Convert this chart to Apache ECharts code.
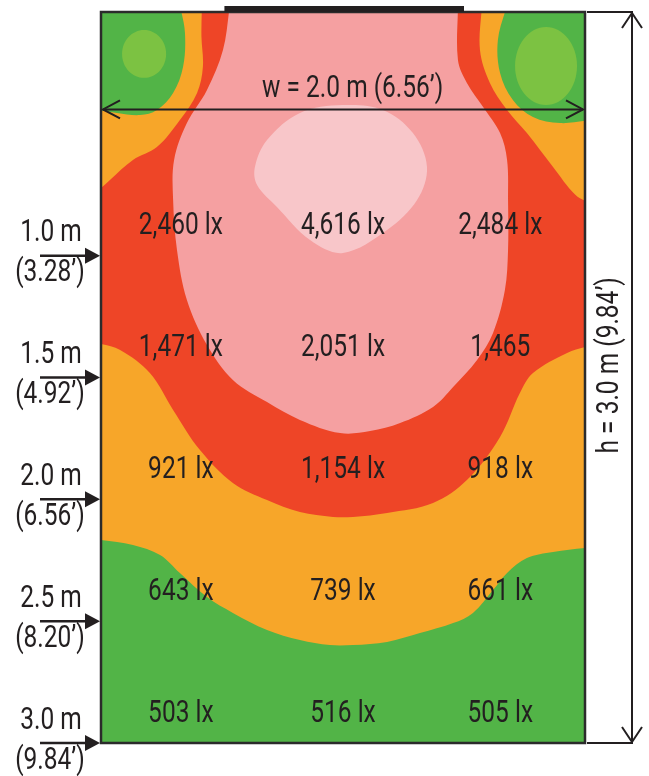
<!DOCTYPE html>
<html>
<head>
<meta charset="utf-8">
<script src="https://cdn.jsdelivr.net/npm/echarts@6/dist/echarts.min.js"></script>
<style>
  html, body { margin: 0; padding: 0; background: #fff; }
  #chart { width: 649px; height: 776px; }
</style>
</head>
<body>
<div id="chart"></div>
<script>
// measuring points: metres across the room / metres away from the source
var colX = [0.33, 1.0, 1.65];
var rowY = [1.0, 1.5, 2.0, 2.5, 3.0];
var lux10 = [2460, 4616, 2484];
var lux15 = [1471, 2051, 1465];
var lux20 = [921, 1154, 918];
var lux25 = [643, 739, 661];
var lux30 = [503, 516, 505];
var unit15 = [' lx', ' lx', ''];   // the "1,465" reading is printed without unit

var rowNames = ['1.0 m', '1.5 m', '2.0 m', '2.5 m', '3.0 m'];
var rowFeet = ['(3.28’)', '(4.92’)', '(6.56’)', '(8.20’)', '(9.84’)'];
var widthText = 'w = 2.0 m (6.56’)';
var heightText = 'h = 3.0 m (9.84’)';
var sourceSpan = [0.51, 1.5];

// isolux zone outlines [x m, y m]
var orangeZone = [[-0.03, -0.03], [2.03, -0.03], [2.03, 2.2], [2.0, 2.2], [1.868, 2.216], [1.76, 2.241], [1.678, 2.302],
  [1.62, 2.372], [1.537, 2.466], [1.455, 2.508], [1.318, 2.549], [1.182, 2.585], [1.041, 2.598], [0.946, 2.598],
  [0.822, 2.577], [0.686, 2.536], [0.545, 2.466], [0.438, 2.401], [0.326, 2.302], [0.244, 2.228], [0.132, 2.187],
  [0, 2.167], [-0.03, 2.165]];
var greenCornerL = [[-0.03, -0.03], [0.326, -0.03], [0.347, 0.086], [0.339, 0.226], [0.298, 0.332], [0.231, 0.402],
  [0.161, 0.423], [0.066, 0.414], [-0.03, 0.4]];
var greenCornerR = [[2.03, -0.03], [1.678, -0.03], [1.64, 0.115], [1.649, 0.25], [1.702, 0.361], [1.785, 0.431],
  [1.897, 0.456], [2.03, 0.443]];
var redZone = [[0.417, -0.03], [1.574, -0.03], [1.566, 0.156], [1.607, 0.291], [1.678, 0.402], [1.76, 0.497],
  [1.868, 0.636], [1.96, 0.75], [2.03, 0.79], [2.03, 1.367], [1.926, 1.399], [1.785, 1.482], [1.731, 1.564],
  [1.649, 1.744], [1.512, 1.921], [1.372, 2.015], [1.182, 2.056], [1.041, 2.072], [0.959, 2.072], [0.822, 2.052],
  [0.686, 2.003], [0.545, 1.933], [0.409, 1.798], [0.298, 1.633], [0.202, 1.482], [0.079, 1.387], [-0.03, 1.355],
  [-0.03, 0.75], [0.037, 0.689], [0.132, 0.607], [0.231, 0.554], [0.326, 0.443], [0.397, 0.332], [0.421, 0.226],
  [0.415, 0.1]];
var pinkZone = [[0.533, -0.03], [1.475, -0.03], [1.475, 0.197], [1.512, 0.291], [1.579, 0.39], [1.649, 0.497],
  [1.678, 0.607], [1.682, 0.772], [1.682, 0.977], [1.669, 1.141], [1.62, 1.317], [1.554, 1.428], [1.455, 1.539],
  [1.372, 1.621], [1.236, 1.687], [1.112, 1.72], [0.988, 1.728], [0.822, 1.674], [0.686, 1.601], [0.545, 1.51],
  [0.438, 1.367], [0.355, 1.182], [0.314, 0.977], [0.298, 0.772], [0.302, 0.607], [0.355, 0.456], [0.438, 0.32],
  [0.504, 0.156]];
var peakZone = [[0.822, 0.414], [0.686, 0.525], [0.636, 0.636], [0.645, 0.71], [0.727, 0.8], [0.864, 0.936],
  [1.0, 0.989], [1.182, 0.895], [1.306, 0.772], [1.347, 0.636], [1.289, 0.497], [1.165, 0.402], [1.0, 0.382]];
// light green spots: centre x, centre y, radius x, radius y (m)
var spotL = [0.178, 0.172, 0.091, 0.098];
var spotR = [1.839, 0.222, 0.128, 0.16];

var FONT = "Roboto, 'DejaVu Sans Condensed', sans-serif";
var INK = '#231f20';
var GREEN = '#52b447', LIGHT_GREEN = '#7cc242', ORANGE = '#f7a629', RED = '#ee4527', PINK = '#f5a0a1', LIGHT_PINK = '#f8c6c9';

// condensed lettering like the print
function txt(x, y, s, rot) {
  return {
    type: 'text', x: x, y: y, rotation: rot || 0, scaleX: 0.79,
    style: { text: s, fill: INK, fontSize: 31, fontWeight: 400, fontFamily: FONT, align: 'center', verticalAlign: 'middle' }
  };
}

function zone(name, pts, color) {
  return {
    type: 'custom', name: name, clip: true, silent: true,
    data: [[0, 0]],
    renderItem: function (params, api) {
      var out = [];
      pts.forEach(function (p) {
        var c = api.coord(p);
        out.push(c);
        // points outside the room are corners: doubled so they stay sharp
        if (p[0] < 0 || p[0] > 2 || p[1] < 0 || p[1] > 3) out.push(c.slice());
      });
      return { type: 'polygon', shape: { points: out, smooth: 0.35 }, style: { fill: color } };
    }
  };
}

function spot(vals) {
  return {
    type: 'custom', clip: true, silent: true,
    data: [vals],
    renderItem: function (params, api) {
      var c = api.coord([api.value(0), api.value(1)]);
      var s = api.size([api.value(2), api.value(3)]);
      return { type: 'ellipse', shape: { cx: c[0], cy: c[1], rx: s[0], ry: s[1] }, style: { fill: LIGHT_GREEN } };
    }
  };
}

var luxRows = [lux10, lux15, lux20, lux25, lux30];
var readings = [];
luxRows.forEach(function (row, r) {
  row.forEach(function (v, c) {
    readings.push([colX[c], rowY[r], v, r * 3 + c]);
  });
});

var chart = echarts.init(document.getElementById('chart'));
var option = {
  animation: false,
  backgroundColor: '#fff',
  grid: { left: 101, top: 12, width: 484, height: 731 },
  xAxis: { type: 'value', min: 0, max: 2, show: false },
  yAxis: { type: 'value', min: 0, max: 3, inverse: true, show: false },
  series: [
    {
      type: 'custom', silent: true, data: [[0, 0]],
      renderItem: function (params, api) {
        var a = api.coord([0, 0]), b = api.coord([2, 3]);
        return { type: 'rect', shape: { x: a[0], y: a[1], width: b[0] - a[0], height: b[1] - a[1] }, style: { fill: GREEN } };
      }
    },
    zone('orange', orangeZone, ORANGE),
    zone('greenL', greenCornerL, GREEN),
    zone('greenR', greenCornerR, GREEN),
    spot(spotL),
    spot(spotR),
    zone('red', redZone, RED),
    zone('pink', pinkZone, PINK),
    zone('peak', peakZone, LIGHT_PINK),
    {
      // frame, light source and dimension lines
      type: 'custom', silent: true, data: [[0, 0]],
      renderItem: function (params, api) {
        var a = api.coord([0, 0]), b = api.coord([2, 3]);
        var s0 = api.coord([sourceSpan[0], 0]), s1 = api.coord([sourceSpan[1], 0]);
        var wy = api.coord([0, 0.4])[1];
        var hx = b[0] + 47;
        var ls = { stroke: INK, lineWidth: 2, fill: null };
        var mid = api.coord([1.04, 1.45]);
        return {
          type: 'group',
          children: [
            { type: 'rect', shape: { x: a[0], y: a[1], width: b[0] - a[0], height: b[1] - a[1] }, style: { fill: null, stroke: '#2b2b2b', lineWidth: 2.5 } },
            { type: 'rect', shape: { x: s0[0], y: a[1] - 6, width: s1[0] - s0[0], height: 6 }, style: { fill: INK } },
            { type: 'line', shape: { x1: a[0] + 2, y1: wy, x2: b[0] - 2, y2: wy }, style: ls },
            { type: 'polyline', shape: { points: [[a[0] + 19, wy - 9], [a[0] + 2, wy], [a[0] + 19, wy + 9]] }, style: ls },
            { type: 'polyline', shape: { points: [[b[0] - 19, wy - 9], [b[0] - 2, wy], [b[0] - 19, wy + 9]] }, style: ls },
            txt(mid[0], wy - 20, widthText),
            { type: 'line', shape: { x1: b[0] + 2, y1: a[1], x2: hx + 1, y2: a[1] }, style: ls },
            { type: 'line', shape: { x1: b[0] + 2, y1: b[1], x2: hx + 1, y2: b[1] }, style: ls },
            { type: 'line', shape: { x1: hx, y1: a[1] + 1, x2: hx, y2: b[1] - 1 }, style: ls },
            { type: 'polyline', shape: { points: [[hx - 10, a[1] + 16], [hx, a[1] + 1], [hx + 10, a[1] + 16]] }, style: ls },
            { type: 'polyline', shape: { points: [[hx - 10, b[1] - 16], [hx, b[1] - 1], [hx + 10, b[1] - 16]] }, style: ls },
            txt(hx - 22, mid[1], heightText, Math.PI / 2)
          ]
        };
      }
    },
    {
      // distance marks on the left wall
      type: 'custom', silent: true,
      data: rowY.map(function (y, i) { return [0, y, i]; }),
      renderItem: function (params, api) {
        var p = api.coord([api.value(0), api.value(1)]);
        var i = api.value(2);
        return {
          type: 'group',
          children: [
            { type: 'line', shape: { x1: p[0] - 61, y1: p[1], x2: p[0] - 12, y2: p[1] }, style: { stroke: INK, lineWidth: 2.5 } },
            { type: 'polygon', shape: { points: [[p[0] - 16, p[1] - 8], [p[0] - 1, p[1]], [p[0] - 16, p[1] + 8]] }, style: { fill: INK } },
            txt(p[0] - 50, p[1] - 22, rowNames[i]),
            txt(p[0] - 51, p[1] + 18, rowFeet[i])
          ]
        };
      }
    },
    {
      // illuminance readings
      type: 'custom', silent: true,
      data: readings,
      renderItem: function (params, api) {
        var p = api.coord([api.value(0), api.value(1)]);
        var k = api.value(3);
        var unit = Math.floor(k / 3) === 1 ? unit15[k % 3] : ' lx';
        return txt(p[0], p[1] - 29, api.value(2).toLocaleString('en-US') + unit);
      }
    }
  ]
};
chart.setOption(option);
window.addEventListener('resize', function () { chart.resize(); });
</script>
</body>
</html>
